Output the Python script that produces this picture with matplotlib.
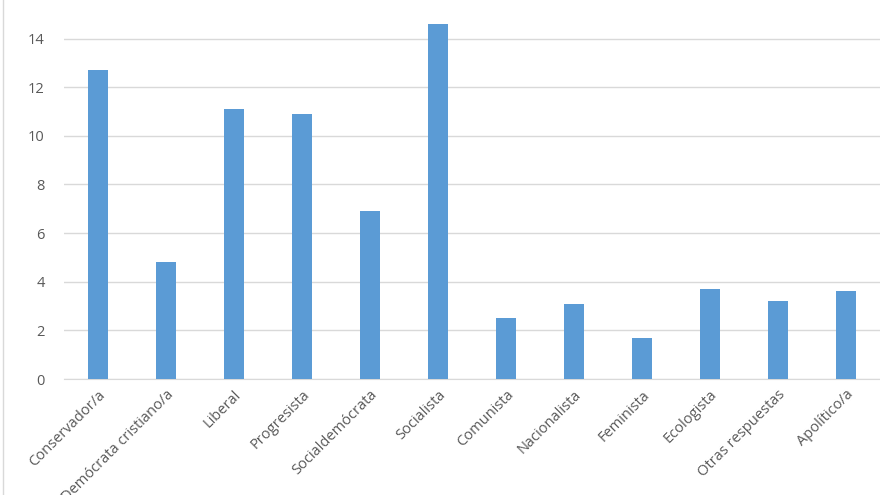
import matplotlib
matplotlib.use("Agg")
import matplotlib.pyplot as plt
from matplotlib.lines import Line2D

# Datos (porcentajes)
categorias = ["Conservador/a", "Demócrata cristiano/a", "Liberal", "Progresista",
              "Socialdemócrata", "Socialista", "Comunista", "Nacionalista",
              "Feminista", "Ecologista", "Otras respuestas", "Apolítico/a"]
valores = [12.7, 4.8, 11.1, 10.9, 6.9, 14.6, 2.5, 3.1, 1.7, 3.7, 3.2, 3.6]
ticks_y = [0, 2, 4, 6, 8, 10, 12, 14, 16]

plt.rcParams['font.family'] = ['Open Sans', 'DejaVu Sans']

fig = plt.figure(figsize=(8.8, 4.95), dpi=100)
# la imagen original está recortada: el eje sobresale por arriba
ax = fig.add_axes([0.0727, 0.2343, 0.9273, 0.786])

x = list(range(len(categorias)))
ax.bar(x, valores, width=0.3, color='#5B9BD5', zorder=3)

ax.set_xlim(-0.5, len(categorias) - 0.5)
ax.set_ylim(0, 16)
ax.set_yticks(ticks_y)
ax.set_xticks(x)
ax.set_xticklabels(categorias, rotation=45, ha='right', rotation_mode='anchor')

ax.grid(axis='y', color='#D9D9D9', linewidth=1, zorder=0)
for s in ['top', 'right', 'left']:
    ax.spines[s].set_visible(False)
ax.spines['bottom'].set_color('#D9D9D9')
ax.tick_params(axis='both', length=0, colors='#595959', labelsize=10.5)
ax.tick_params(axis='x', pad=6)
ax.tick_params(axis='y', pad=14)

# borde del gráfico a la izquierda
fig.add_artist(Line2D([0.003, 0.003], [0, 1], color='#D9D9D9', linewidth=1,
                      transform=fig.transFigure))

fig.savefig("out.png", dpi=100)
